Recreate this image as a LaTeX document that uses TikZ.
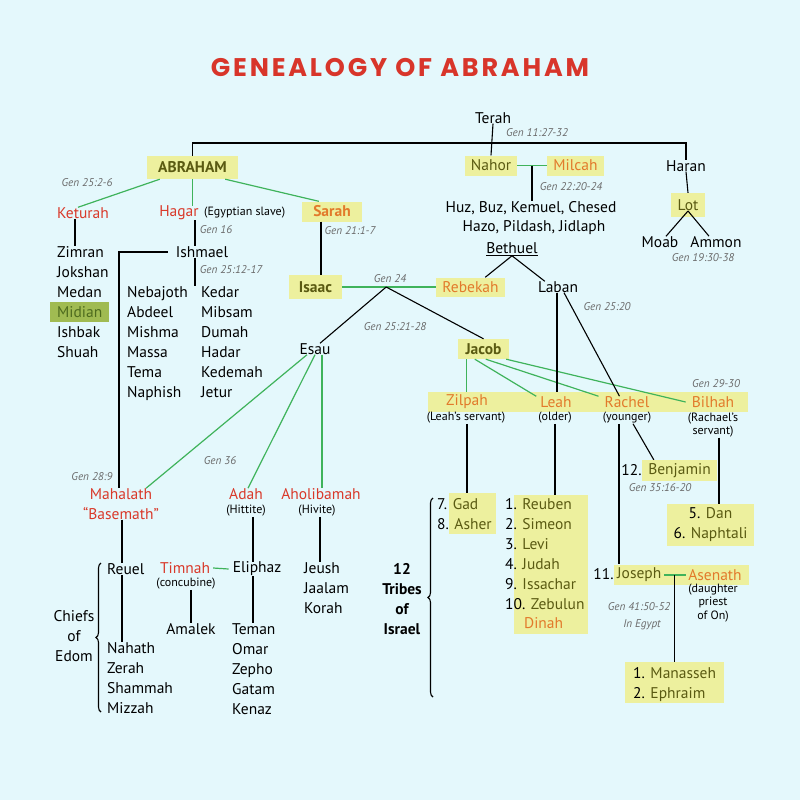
\documentclass[tikz,border=0pt]{standalone}
\usepackage{fontspec}
\setmainfont{PT Sans}
\newfontfamily\titlefont{Poppins}[LetterSpace=11]
\usetikzlibrary{calc,decorations.pathreplacing}
\definecolor{bgcol}{HTML}{E4F8FC}
\definecolor{hlyellow}{HTML}{EDF09E}
\definecolor{midiangreen}{HTML}{A0BB52}
\definecolor{midiantext}{HTML}{4E6B1E}
\definecolor{namered}{HTML}{D9392A}
\definecolor{nameorange}{HTML}{E27A2B}
\definecolor{olivetext}{HTML}{5A5A12}
\definecolor{greenline}{HTML}{3FB35B}
\definecolor{refgray}{HTML}{6B6B6B}
\definecolor{titlered}{HTML}{D8352A}
\begin{document}
\begin{tikzpicture}[x=1pt,y=-1pt]%
  \tikzset{%
    txt/.style={font=\fontsize{15.5}{20}\selectfont, inner sep=0pt},
    row/.style={txt, anchor=base west},
    bold txt/.style={font=\fontsize{15.5}{20}\selectfont\bfseries, inner sep=0pt},
    note/.style={font=\fontsize{12}{13.5}\selectfont, inner sep=0pt, align=center},
    gen/.style={font=\fontsize{11.2}{13}\selectfont\itshape, text=refgray, inner sep=0pt},
    hl/.style={fill=hlyellow, inner sep=0pt},
    wife/.style={txt, text=namered},
    kin/.style={draw=black, line width=1.1pt},
    wed/.style={draw=greenline, line width=1.2pt},
    brace/.style={kin, decorate, decoration={brace, amplitude=5pt}},
  }%
  \fill[bgcol] (0,0) rectangle (800,800);
  \useasboundingbox (0,0) rectangle (800,800);
  \node[font=\titlefont\bfseries\fontsize{25.5}{30}\selectfont, text=titlered, inner sep=0pt] (title) at (400,68) {GENEALOGY OF ABRAHAM};

  % Terah
  \node[txt] (terah) at (493,118) {Terah};
  \node[gen] (g1) at (537,133) {Gen 11:27-32};
  \node[hl, bold txt, text=olivetext, minimum width=91, minimum height=23] (abraham) at (192.5,167.5) {ABRAHAM};
  \node[hl, txt, text=olivetext, minimum width=52, minimum height=20] (nahor) at (491,165.5) {Nahor};
  \node[hl, txt, text=nameorange, minimum width=57, minimum height=20] (milcah) at (575.5,165.5) {Milcah};
  \node[txt] (haran) at (686,166) {Haran};
  \coordinate (terahbar) at (492,143);
  \draw[kin] (terah.south) -- (nahor.north);
  \draw[kin] (abraham.north) |- (terahbar) -| (haran.north);

  % Nahor and Milcah
  \node[txt] (huz) at (531,208) {Huz, Buz, Kemuel, Chesed};
  \node[txt] (hazo) at (534,228) {Hazo, Pildash, Jidlaph};
  \node[txt] (bethuel) at (512,249) {\underline{Bethuel}};
  \node[gen] (g2) at (571,187) {Gen 22:20-24};
  \draw[wed] (nahor.east) -- (milcah.west);
  \coordinate (nahorkids) at ($(nahor.east)!0.5!(milcah.west)$);
  \draw[kin] (nahorkids) -- (nahorkids |- huz.north);

  % Haran and Lot
  \node[hl, txt, text=olivetext, minimum width=34, minimum height=24] (lot) at (688,205) {Lot};
  \node[txt] (moab) at (660,242) {Moab};
  \node[txt] (ammon) at (716,242) {Ammon};
  \node[gen] (g3) at (703,258) {Gen 19:30-38};
  \draw[kin] (haran.south) -- (lot.north);
  \draw[kin] ([yshift=-6]lot.center) -- ([xshift=6]moab.north);
  \draw[kin] ([yshift=-6]lot.center) -- ([xshift=-7]ammon.north);

  % wives of Abraham
  \node[gen] (g4) at (87,183) {Gen 25:2-6};
  \node[wife] (keturah) at (83,213) {Keturah};
  \node[wife] (hagar) at (179,213) {Hagar};
  \node[note, anchor=west] (hagarnote) at (204,213) {(Egyptian slave)};
  \node[hl, bold txt, text=nameorange, minimum width=60, minimum height=20] (sarah) at (332,211.5) {Sarah};
  \draw[wed] ([xshift=13]abraham.south west) -- ([xshift=21]keturah.north west);
  \draw[wed] (abraham.south) -- (abraham.south |- hagar.north);
  \draw[wed] ([xshift=-13]abraham.south east) -- ([xshift=17]sarah.north west);

  % Keturah
  \node[fill=midiangreen, inner sep=0pt, minimum width=59, minimum height=20] (midianbox) at (79.5,312) {};
  \foreach \n [count=\i] in {Zimran,Jokshan,Medan,\textcolor{midiantext}{Midian},Ishbak,Shuah}
    \node[row] (ket\i) at (57,237.5+20*\i) {\n};
  \draw[kin] ([xshift=-8]keturah.south) -- ([xshift=-8]keturah.south |- ket1.north);

  % Hagar
  \node[txt] (ishmael) at (202,252) {Ishmael};
  \node[gen] (g5) at (216,230) {Gen 16};
  \node[gen] (g6) at (231,270) {Gen 25:12-17};
  \foreach \n [count=\i] in {Nebajoth,Abdeel,Mishma,Massa,Tema,Naphish}
    \node[row] (ish\i) at (127,277.5+20*\i) {\n};
  \foreach \n [count=\i] in {Kedar,Mibsam,Dumah,Hadar,Kedemah,Jetur}
    \node[row] (ishb\i) at (201,277.5+20*\i) {\n};
  \draw[kin] ([xshift=16]hagar.south) -- ([xshift=16]hagar.south |- ishmael.north);
  \draw[kin] ([xshift=-7]ishmael.south) -- ([xshift=-7]ishmael.south |- ishb1.north);

  % Sarah
  \node[hl, bold txt, text=olivetext, minimum width=53, minimum height=24] (isaac) at (315.5,287) {Isaac};
  \node[gen] (g7) at (350,231) {Gen 21:1-7};
  \node[hl, txt, text=nameorange, minimum width=69, minimum height=19] (rebekah) at (470.5,287) {Rebekah};
  \node[txt] (laban) at (558,287) {Laban};
  \draw[kin] ([xshift=-11]sarah.south) -- ([xshift=-11]sarah.south |- isaac.north);
  \draw[kin] (bethuel.south) -- ([xshift=-20]rebekah.north east);
  \draw[kin] (bethuel.south) -- ([xshift=7]laban.north west);
  \draw[wed] (isaac.east) -- (rebekah.west);
  \coordinate (isaackids) at ($(isaac.east)!0.47!(rebekah.west)$);
  \node[gen] (g8) at (390,279) {Gen 24};
  \node[txt] (esau) at (315,349) {Esau};
  \node[hl, bold txt, text=olivetext, minimum width=51, minimum height=20] (jacob) at (483.5,349) {Jacob};
  \draw[kin] (isaackids) -- ([xshift=5]esau.north);
  \draw[kin] (isaackids) -- (jacob.north);
  \node[gen] (g9) at (395,327) {Gen 25:21-28};
  \node[gen] (g10) at (607,307) {Gen 25:20};

  % wives of Jacob
  \node[hl, minimum width=320, minimum height=20] (wivesbar) at (588,402) {};
  \node[txt, text=nameorange] (zilpah) at (467,402) {Zilpah};
  \node[txt, text=nameorange] (leah) at (556,402) {Leah};
  \node[txt, text=nameorange] (rachel) at (627,402) {Rachel};
  \node[txt, text=nameorange] (bilhah) at (713,402) {Bilhah};
  \node[note] (zilpahnote) at (466,418) {(Leah’s servant)};
  \node[note] (leahnote) at (555,418) {(older)};
  \node[note] (rachelnote) at (627,418) {(younger)};
  \node[note] (bilhahnote) at (713,425) {(Rachael’s\\servant)};
  \node[gen] (g11) at (716,384) {Gen 29-30};
  \draw[wed] ([xshift=9]jacob.south west) -- ([xshift=9]jacob.south west |- wivesbar.north);
  \draw[wed] ([xshift=17]jacob.south west) -- ([xshift=-4]leah.north west);
  \draw[wed] ([xshift=28]jacob.south west) -- ([xshift=-6]rachel.north west);
  \draw[wed] ([xshift=-3]jacob.south east) -- ([xshift=-6]bilhah.west);
  \draw[kin] ([xshift=-1]laban.south) -- ([xshift=-1]laban.south |- wivesbar.north);
  \draw[kin] ([xshift=6]laban.south) -- ([xshift=15]rachel.north west);

  % sons of Jacob
  \node[hl, minimum width=47, minimum height=41] (gadbox) at (472.5,513.5) {};
  \foreach \n/\s [count=\i] in {7/Gad,8/Asher}
    \node[row] (zilpahson\i) at (437,489.5+20*\i) {\n. \textcolor{olivetext}{\s}};
  \draw[kin] ([xshift=1]zilpahnote.south) -- ([xshift=1]zilpahnote.south |- gadbox.north);
  \node[hl, minimum width=74, minimum height=139] (leahbox) at (551,564.5) {};
  \foreach \n/\s [count=\i] in {1/Reuben,2/Simeon,3/Levi,4/Judah,9/Issachar,10/Zebulun}
    \node[row] (leahson\i) at (505,489.5+20*\i) {\n. \textcolor{olivetext}{\s}};
  \node[row, text=nameorange] (dinah) at (524,628.5) {Dinah};
  \draw[kin] (leahnote.south) -- (leahnote.south |- leahbox.north);
  \node[hl, txt, text=olivetext, minimum width=75, minimum height=21] (benjamin) at (679.5,470.5) {Benjamin};
  \node[txt, anchor=east] (benjaminnum) at (benjamin.west) {12.};
  \node[gen] (g12) at (660,488) {Gen 35:16-20};
  \draw[kin] ([xshift=6]rachelnote.south) -- ([xshift=12]benjamin.north west);
  \node[hl, txt, align=center, minimum width=87, minimum height=42] (danbox) at (710.5,525) {5. \textcolor{olivetext}{Dan}\\6. \textcolor{olivetext}{Naphtali}};
  \draw[kin] ([xshift=6]bilhahnote.south) -- ([xshift=6]bilhahnote.south |- danbox.north);
  \node[bold txt, align=center] (tribes) at (402,599) {12\\Tribes\\of\\Israel};
  \draw[brace] (433,697) -- (433,498);

  % Joseph
  \node[hl, minimum width=135, minimum height=20] (josephbox) at (681.5,574.5) {};
  \node[txt, anchor=west, text=olivetext] (joseph) at (617,575) {Joseph};
  \node[txt, text=nameorange] (asenath) at (715,575) {Asenath};
  \node[txt, anchor=east] (josephnum) at (josephbox.west) {11.};
  \node[note] (asenathnote) at (713,603) {(daughter\\priest\\of On)};
  \node[gen] (g13) at (639,607) {Gen 41:50-52};
  \node[gen] (g14) at (642,625) {In Egypt};
  \draw[kin] ([xshift=-8]rachelnote.south) -- ([xshift=-8]rachelnote.south |- josephbox.north);
  \draw[wed] ([xshift=3]joseph.east) -- ([xshift=-2]asenath.west);
  \coordinate (josephkids) at ($(joseph.east)!0.5!(asenath.west)$);
  \node[hl, minimum width=99, minimum height=41] (ephraimbox) at (674.5,682.5) {};
  \foreach \n/\s [count=\i] in {1/Manasseh,2/Ephraim}
    \node[row] (josephson\i) at (633,658.5+20*\i) {\n. \textcolor{olivetext}{\s}};
  \draw[kin] (josephkids) -- (josephkids |- ephraimbox.north);

  % wives of Esau
  \node[wife, align=center] (mahalath) at (121,504) {Mahalath\\“Basemath”};
  \node[wife] (adah) at (246,494) {Adah};
  \node[note] (adahnote) at (246,511) {(Hittite)};
  \node[wife] (aholibamah) at (321,494) {Aholibamah};
  \node[note] (aholinote) at (317,511) {(Hivite)};
  \node[gen] (g15) at (92,477) {Gen 28:9};
  \node[gen] (g16) at (220,461) {Gen 36};
  \draw[kin] ([xshift=-8]ishmael.west) -| ([xshift=-2]mahalath.north);
  \draw[wed] ([xshift=-8]esau.south) -- ([xshift=25]mahalath.north);
  \draw[wed] (esau.south) -- ([xshift=2]adah.north);
  \draw[wed] ([xshift=7]esau.south) -- ([xshift=7]esau.south |- aholibamah.north);

  % Edom
  \node[txt, anchor=west] (reuel) at (107,569) {Reuel};
  \foreach \n [count=\i] in {Nahath,Zerah,Shammah,Mizzah}
    \node[row] (reuelson\i) at (107,633.5+20*\i) {\n};
  \draw[kin] ([xshift=1]mahalath.south) -- ([xshift=1]mahalath.south |- reuel.north);
  \draw[kin] ([xshift=1]mahalath.south |- reuel.south) -- ([xshift=1]mahalath.south |- reuelson1.north);
  \node[txt, align=center] (chiefs) at (74,636) {Chiefs\\of\\Edom};
  \draw[brace] (101,712) -- (101,563);
  \node[wife] (timnah) at (185,568) {Timnah};
  \node[note] (timnahnote) at (186,584) {(concubine)};
  \node[txt] (eliphaz) at (257,569) {Eliphaz};
  \draw[wed] ([xshift=3]timnah.east) -- ([xshift=-4]eliphaz.west);
  \draw[kin] ([xshift=7]adahnote.south) -- ([xshift=7]adahnote.south |- eliphaz.north);
  \node[txt] (amalek) at (191,629) {Amalek};
  \draw[kin] (timnahnote.south -| amalek.north) -- (amalek.north);
  \foreach \n [count=\i] in {Teman,Omar,Zepho,Gatam,Kenaz}
    \node[row] (eliphazson\i) at (232,614.5+20*\i) {\n};
  \draw[kin] ([xshift=-4]eliphaz.south) -- ([xshift=-4]eliphaz.south |- eliphazson1.north);
  \foreach \n [count=\i] in {Jeush,Jaalam,Korah}
    \node[row] (aholison\i) at (304,553.5+20*\i) {\n};
  \draw[kin] ([xshift=3]aholinote.south) -- ([xshift=3]aholinote.south |- aholison1.north);
\end{tikzpicture}
\end{document}
